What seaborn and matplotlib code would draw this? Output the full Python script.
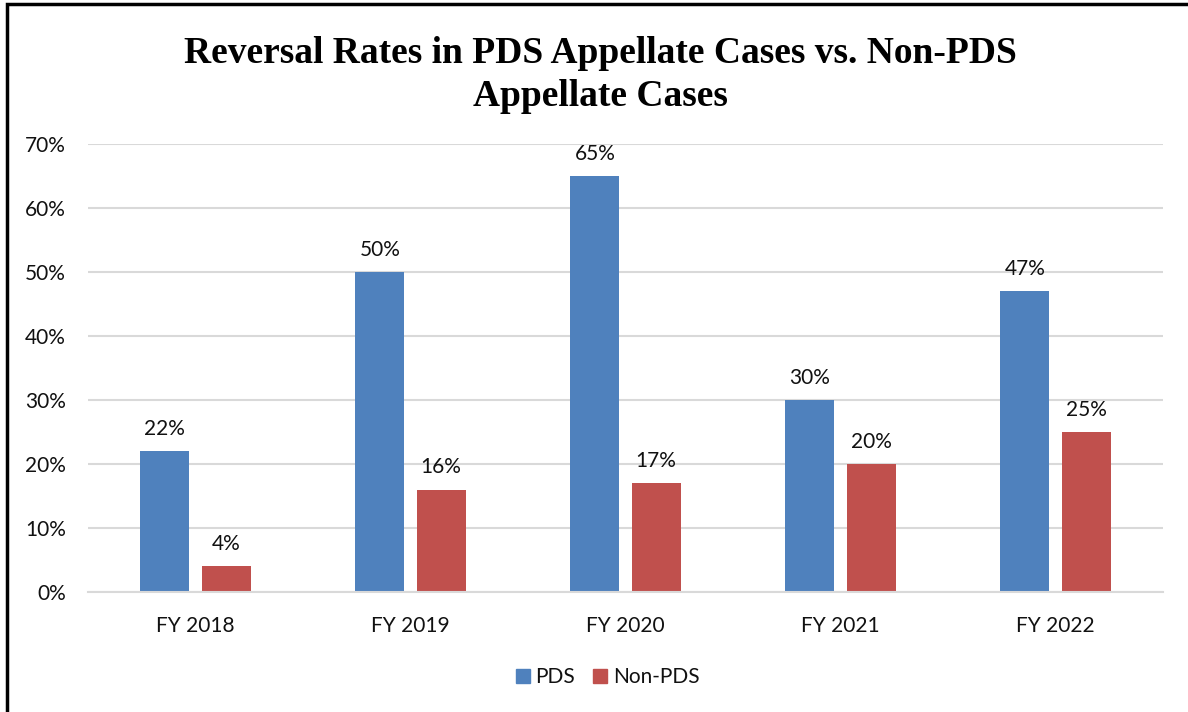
import matplotlib
matplotlib.use("Agg")
import matplotlib.pyplot as plt
import seaborn as sns
import pandas as pd
from matplotlib.lines import Line2D
from matplotlib.patches import Rectangle

categories = ["FY 2018", "FY 2019", "FY 2020", "FY 2021", "FY 2022"]
pds = [22, 50, 65, 30, 47]
non_pds = [4, 16, 17, 20, 25]
series_names = ["PDS", "Non-PDS"]
colors = ["#4F81BD", "#C0504D"]
yticks = [0, 10, 20, 30, 40, 50, 60, 70]

df = pd.DataFrame({
    "year": categories * 2,
    "value": pds + non_pds,
    "series": [series_names[0]] * len(categories) + [series_names[1]] * len(categories),
})

sns.set_theme(style="white")
plt.rcParams["font.family"] = ["Lato", "DejaVu Sans"]
plt.rcParams["text.color"] = "black"

fig = plt.figure(figsize=(11.88, 7.12), dpi=100)
ax = fig.add_axes([88 / 1188, 1 - 592 / 712, (1163 - 88) / 1188, (592 - 144) / 712])

sns.barplot(data=df, x="year", y="value", hue="series", order=categories,
            hue_order=series_names, palette=colors, width=0.57, gap=0.2,
            saturation=1, ax=ax, legend=False, errorbar=None, linewidth=0)

ax.set_ylim(0, 70)
ax.set_xlim(-0.5, len(categories) - 0.5)
ax.set_yticks(yticks)
ax.set_yticklabels([f"{v}%" for v in yticks], fontsize=15, color="#111111")
ax.tick_params(axis="x", labelsize=15, colors="#111111", pad=17, length=0)
ax.tick_params(axis="y", pad=16, length=0)
ax.set_xlabel("")
ax.set_ylabel("")
ax.grid(axis="y", color="#D9D9D9", linewidth=1.5)
ax.set_axisbelow(True)
for s in ["top", "right", "left"]:
    ax.spines[s].set_visible(False)
ax.spines["bottom"].set_color("#D9D9D9")
ax.spines["bottom"].set_linewidth(1.5)

for cont in ax.containers:
    ax.bar_label(cont, labels=[f"{int(round(b.get_height()))}%" for b in cont],
                 padding=9, fontsize=15, color="#111111")

fig.text(0.505, 1 - 75 / 712, "Reversal Rates in PDS Appellate Cases vs. Non-PDS\nAppellate Cases",
         ha="center", va="center", fontsize=27, fontweight="bold", color="black",
         family=["Liberation Serif", "DejaVu Serif"], linespacing=1.3)

handles = [Line2D([0], [0], marker="s", linestyle="none", markersize=9.5,
                  markerfacecolor=c, markeredgecolor=c) for c in colors]
fig.legend(handles, series_names, loc="center", bbox_to_anchor=(605 / 1188, 1 - 677 / 712),
           ncol=2, frameon=False, fontsize=15, handletextpad=0.0, columnspacing=0.6,
           handlelength=1.2, labelcolor="#111111")

fig.patches.append(Rectangle((7 / 1188, -0.1), 1.2, 1 - 4 / 712 + 0.1, transform=fig.transFigure,
                             fill=False, edgecolor="black", linewidth=2.5, figure=fig))

fig.savefig("out.png", dpi=100)
